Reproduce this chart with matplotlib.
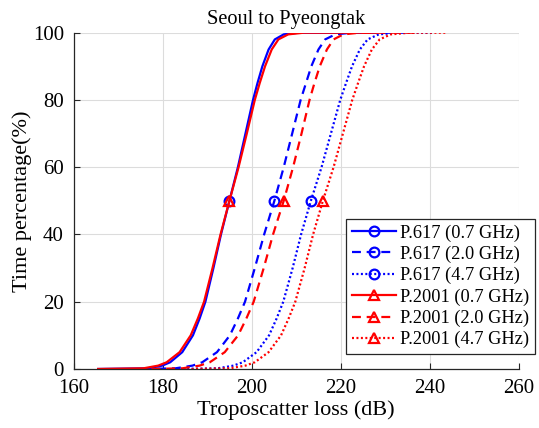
import matplotlib
matplotlib.use("Agg")
import matplotlib.pyplot as plt

plt.rcParams['font.family'] = ['Liberation Serif', 'DejaVu Serif']
plt.rcParams['mathtext.fontset'] = 'stix'

# Percent levels (y) shared by all curves
pct = [0, 0.2, 1, 2, 5, 10, 15, 20, 30, 40, 50, 60, 70, 80, 85, 90, 95, 98, 99.5, 100, 100]

# Troposcatter loss (dB) read at each percent level
p617_07 = [165.5, 176.8, 179.9, 181.7, 184.4, 186.8, 188.3, 189.6, 191.4, 193.1, 195.0,
           196.9, 198.6, 200.3, 201.3, 202.4, 203.8, 205.2, 207.2, 210.5, 226.0]
p617_20 = [175.5, 182.9, 186.7, 188.9, 192.2, 195.1, 196.9, 198.5, 200.7, 202.8, 205.1,
           207.2, 209.1, 211.0, 212.2, 213.4, 215.0, 216.5, 218.8, 222.5, 235.5]
p617_47 = [183.5, 192.4, 195.9, 198.0, 201.1, 203.9, 205.6, 207.1, 209.2, 211.1, 213.3,
           215.7, 217.8, 219.9, 221.2, 222.55, 224.3, 226.05, 228.55, 232.7, 241.0]
p2001_07 = [165.5, 175.7, 179.0, 180.9, 183.8, 186.3, 187.9, 189.3, 191.2, 193.0, 195.0,
            197.05, 198.9, 200.7, 201.8, 203.0, 204.5, 206.0, 208.2, 211.7, 228.0]
p2001_20 = [177.5, 184.45, 188.3, 190.6, 193.95, 196.95, 198.8, 200.45, 202.7, 204.8, 207.2,
            209.3, 211.2, 213.0, 214.1, 215.3, 216.9, 218.4, 220.6, 224.2, 237.5]
p2001_47 = [186.5, 195.1, 198.6, 200.7, 203.8, 206.6, 208.3, 209.8, 211.9, 213.8, 216.0,
            218.4, 220.5, 222.6, 223.9, 225.25, 227.0, 228.75, 231.25, 235.4, 243.6]

labels = ['P.617 (0.7 GHz)', 'P.617 (2.0 GHz)', 'P.617 (4.7 GHz)',
          'P.2001 (0.7 GHz)', 'P.2001 (2.0 GHz)', 'P.2001 (4.7 GHz)']
series = [p617_07, p617_20, p617_47, p2001_07, p2001_20, p2001_47]
colors = ['#0000ff', '#0000ff', '#0000ff', '#ff0000', '#ff0000', '#ff0000']
styles = ['-', (0, (4.0, 2.6)), (0, (0.9, 1.1)), '-', (0, (4.0, 2.6)), (0, (0.9, 1.1))]
markers = ['o', 'o', 'o', '^', '^', '^']

xticks = [160, 180, 200, 220, 240, 260]
yticks = [0, 20, 40, 60, 80, 100]

fig = plt.figure(figsize=(5.39, 4.28), dpi=100)
ax = fig.add_axes([0.1367, 0.1379, 0.8256, 0.7857])

mid = pct.index(50)
for x, lab, c, ls, m in zip(series, labels, colors, styles, markers):
    ax.plot(x, pct, color=c, linestyle=ls, linewidth=1.6, marker=m,
            markevery=[mid], markersize=7, markerfacecolor='none',
            markeredgewidth=1.6, label=lab)

ax.set_xlim(160, 260)
ax.set_ylim(0, 100)
ax.set_xticks(xticks)
ax.set_yticks(yticks)
ax.tick_params(direction='in', length=4, width=0.8, labelsize=15, colors='#262626',
               labelcolor='black')
ax.tick_params(axis='x', pad=7)
ax.tick_params(axis='y', pad=7)
ax.grid(True, color='#dcdcdc', linewidth=0.8)
ax.set_axisbelow(True)
for s in ['top', 'right']:
    ax.spines[s].set_visible(False)
for s in ['left', 'bottom']:
    ax.spines[s].set_color('#262626')
    ax.spines[s].set_linewidth(0.9)

ax.set_xlabel('Troposcatter loss (dB)', fontsize=16, labelpad=2)
ax.set_ylabel('Time percentage(%)', fontsize=16)
ax.yaxis.set_label_coords(-0.094, 0.5)
ax.set_title('Seoul to Pyeongtak', fontsize=14.7, x=0.477, pad=6)

leg = ax.legend(loc='lower left', bbox_to_anchor=(0.612, 0.045), fontsize=13.2,
                frameon=True, fancybox=False, edgecolor='#262626', framealpha=1,
                handlelength=2.4, handletextpad=0.25, borderpad=0.3, labelspacing=0.22,
                borderaxespad=0)
leg.get_frame().set_linewidth(0.9)

fig.savefig('out.png', dpi=100)
